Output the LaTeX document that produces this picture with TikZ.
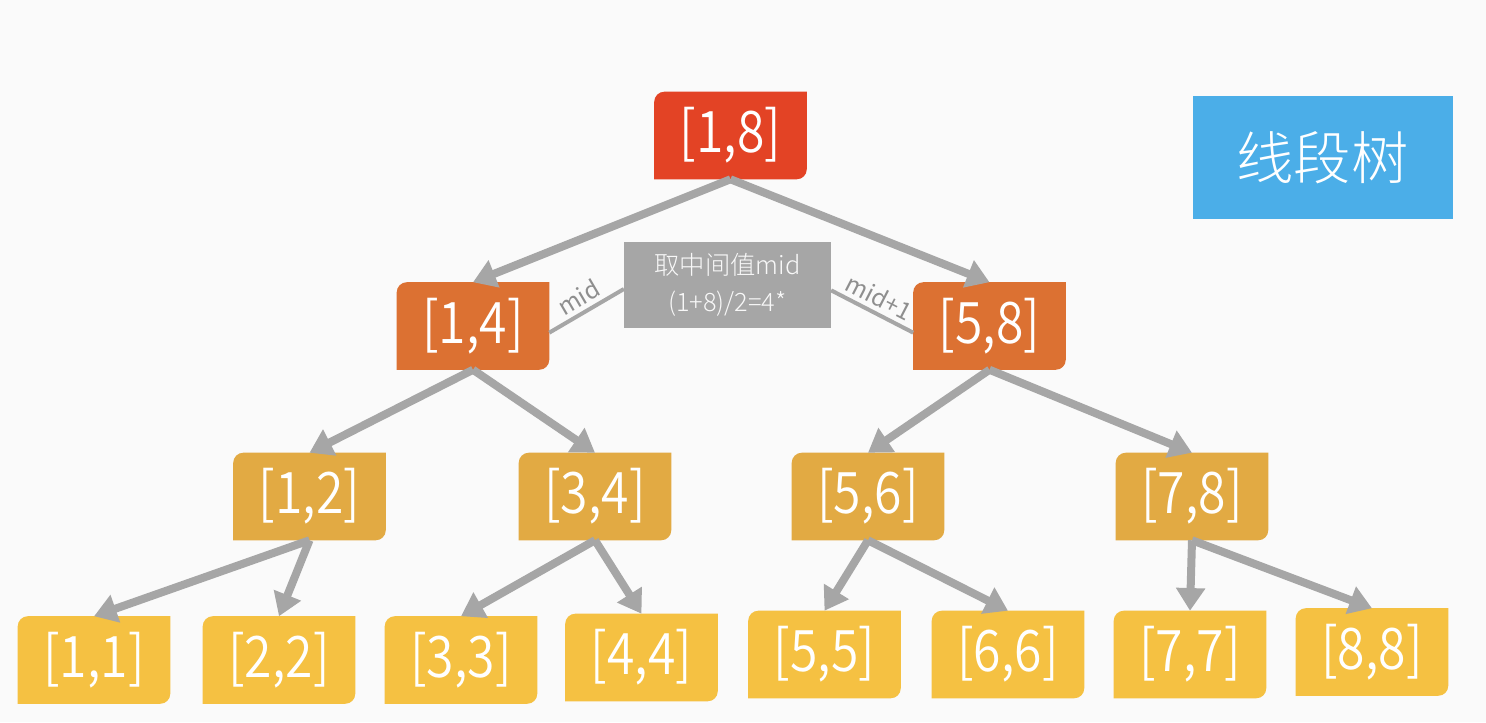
\documentclass[tikz,border=0pt]{standalone}
\usepackage{fontspec}
\setmainfont{Noto Sans CJK SC}
\newfontfamily\numfont[FakeStretch=0.87]{Noto Sans CJK SC DemiLight}
\newfontfamily\lightfont{Noto Sans CJK SC Light}
\usetikzlibrary{arrows.meta,backgrounds}
\definecolor{bgc}{HTML}{FAFAFA}
\definecolor{cA}{HTML}{E34325}
\definecolor{cB}{HTML}{DC7132}
\definecolor{cC}{HTML}{E2AA43}
\definecolor{cD}{HTML}{F5C142}
\definecolor{gbox}{HTML}{A6A6A6}
\definecolor{gline}{HTML}{A6A6A6}
\definecolor{glabel}{HTML}{8E8E8E}
\definecolor{bluebox}{HTML}{4BAEE8}
\tikzset{
  seg/.style={minimum width=114pt, minimum height=65.25pt, inner sep=0pt,
    text=white, font=\numfont\fontsize{43}{43}\selectfont},
  arr/.style={draw=gline, line width=6pt, -{Triangle[length=17pt,width=21pt]}},
  midline/.style={draw=gline, line width=3pt},
  midlabel/.style={text=glabel, font=\fontsize{18}{18}\selectfont, inner sep=1pt},
  graybox/.style={fill=gbox, text=white!92!gbox, align=center, minimum width=155pt,
    minimum height=64.5pt, inner sep=0pt, font=\lightfont\fontsize{19}{27.75}\selectfont},
  titlebox/.style={fill=bluebox, text=white, minimum width=195pt, minimum height=92.25pt,
    inner sep=0pt, font=\lightfont\fontsize{43}{43}\selectfont}
}
\begin{document}
\begin{tikzpicture}[x=0.75pt,y=-0.75pt]
\useasboundingbox (0,0) rectangle (1486,722);
\begin{scope}[on background layer]
\fill[bgc] (0,0) rectangle (1486,722);
\end{scope}
% nodes
\node[seg] (n18) at (730.5,135.5) {[1,8]};
\node[seg] (n14) at (473,326) {[1,4]};
\node[seg] (n58) at (989.5,326) {[5,8]};
\node[seg] (n12) at (309.5,496.5) {[1,2]};
\node[seg] (n34) at (595,496.5) {[3,4]};
\node[seg] (n56) at (868,496.5) {[5,6]};
\node[seg] (n78) at (1192,496.5) {[7,8]};
\node[seg] (n11) at (94,660) {[1,1]};
\node[seg] (n22) at (279,660) {[2,2]};
\node[seg] (n33) at (461,660) {[3,3]};
\node[seg] (n44) at (641.5,657.5) {[4,4]};
\node[seg] (n55) at (824.5,654.5) {[5,5]};
\node[seg] (n66) at (1008,654.5) {[6,6]};
\node[seg] (n77) at (1190,654.5) {[7,7]};
\node[seg] (n88) at (1372,652) {[8,8]};
\node[graybox] (mid) at (727.5,285) {取中间值mid\\(1+8)/2=4*};
\node[titlebox] (title) at (1322.5,157.5) {线段树};
% box fills (top-left and bottom-right corners rounded)
\begin{scope}[on background layer]
\foreach \n/\c in {n18/cA,n14/cB,n58/cB,n12/cC,n34/cC,n56/cC,n78/cC,
  n11/cD,n22/cD,n33/cD,n44/cD,n55/cD,n66/cD,n77/cD,n88/cD}{
  \fill[\c] (\n.south west) -- ([yshift=-7.5pt]\n.north west)
    arc[start angle=180,end angle=90,radius=7.5pt] -- (\n.north east)
    -- ([yshift=7.5pt]\n.south east)
    arc[start angle=0,end angle=-90,radius=7.5pt] -- cycle;
}
\end{scope}
% arrows
\draw[arr] (n18.south) -- (n14.north);
\draw[arr] (n18.south) -- (n58.north);
\draw[arr] (n14.south) -- (n12.north);
\draw[arr] (n14.south) -- (n34.north);
\draw[arr] (n58.south) -- (n56.north);
\draw[arr] (n58.south) -- (n78.north);
\draw[arr] (n12.south) -- (n11.north);
\draw[arr] (n12.south) -- (n22.north);
\draw[arr] (n34.south) -- (n33.north);
\draw[arr] (n34.south) -- (n44.north);
\draw[arr] (n56.south) -- (n55.north);
\draw[arr] (n56.south) -- (n66.north);
\draw[arr] (n78.south) -- (n77.north);
\draw[arr] (n78.south) -- (n88.north);
% mid lines
\draw[midline] ([yshift=-3pt]mid.west) -- node[midlabel, sloped, above=2pt] {mid} ([yshift=-5pt]n14.east);
\draw[midline] ([yshift=-4pt]mid.east) -- node[midlabel, sloped, above=2pt] {mid+1} ([yshift=-5pt]n58.west);
\end{tikzpicture}
\end{document}
